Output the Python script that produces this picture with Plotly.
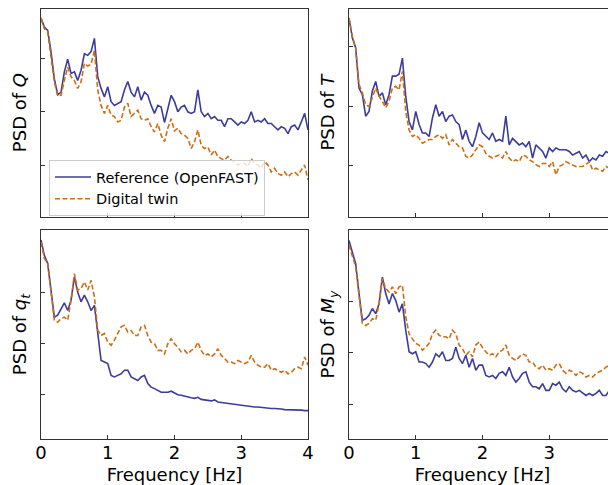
import plotly.graph_objects as go
from plotly.subplots import make_subplots

# frequency grid [Hz]
freq = [round(0.05 * i, 2) for i in range(81)]

# PSD values, stored as log10(PSD)
q_ref_log = [0.76, 0.59, 0.53, 0.13, -0.38, -0.68, -0.63, -0.25, -0.01, -0.28,
             -0.25, -0.41, -0.22, 0.09, 0.06, 0.13, 0.38, -0.34, -0.56, -0.72,
             -0.53, -0.81, -0.88, -0.84, -0.81, -0.59, -0.43, -0.63, -0.72, -0.53,
             -0.78, -0.63, -0.69, -0.88, -1.03, -0.88, -0.91, -1.20, -0.97, -0.69,
             -0.81,
             -1.00, -0.91, -0.88, -1.00, -1.03, -1.00, -0.59, -1.00, -1.09, -1.03,
             -1.13, -1.09, -1.16, -1.16, -1.28, -1.13, -1.13, -1.19, -1.25, -1.19,
             -1.22, -1.16, -1.00, -1.19, -1.16, -1.19, -1.13, -1.22, -1.22, -1.28,
             -1.34, -1.28, -1.31, -1.41, -1.28, -1.25, -1.34, -1.19, -1.03, -1.34]
q_twin_log = [0.76, 0.56, 0.50, 0.06, -0.44, -0.70, -0.69, -0.41, -0.16, -0.34,
              -0.41, -0.56, -0.44, -0.09, -0.14, -0.11, 0.16, -0.59, -0.88, -1.03,
              -0.88, -1.06, -1.09, -1.19, -1.16, -0.91, -0.84, -1.09, -1.03, -0.97,
              -1.13, -1.16, -1.13, -1.28, -1.38, -1.22, -1.44, -1.56, -1.31, -1.13,
              -1.36,
              -1.31, -1.41, -1.44, -1.50, -1.69, -1.56, -1.34, -1.63, -1.69, -1.66,
              -1.81, -1.72, -1.84, -1.88, -1.91, -1.84, -1.91, -1.94, -2.00, -1.97,
              -1.97, -2.03, -1.88, -1.97, -2.00, -2.06, -1.94, -2.00, -2.13, -2.06,
              -2.16, -2.19, -2.13, -2.22, -2.16, -2.13, -2.19, -2.09, -2.00, -2.28]

t_ref_log = [0.47, 0.14, -0.03, -0.70, -0.81, -1.17, -1.09, -0.75, -0.59, -0.84,
             -0.78, -0.98, -0.81, -0.50, -0.50, -0.47, -0.20, -0.84, -1.26, -1.40,
             -1.09, -1.31, -1.45, -1.45, -1.51, -1.20, -0.98, -1.17, -1.09, -1.26,
             -1.17, -1.15, -1.26, -1.31, -1.56, -1.40, -1.59, -1.68, -1.51, -1.28,
             -1.45,
             -1.51, -1.56, -1.45, -1.59, -1.56, -1.59, -1.17, -1.65, -1.54, -1.59,
             -1.65, -1.62, -1.68, -1.59, -1.87, -1.65, -1.70, -1.76, -1.87, -1.70,
             -1.76, -1.70, -1.73, -1.73, -1.73, -1.76, -1.82, -1.79, -1.76, -1.87,
             -1.82, -1.93, -1.87, -1.90, -1.82, -1.84, -1.76, -1.79, -1.68, -1.87]
t_twin_log = [0.47, 0.17, -0.03, -0.64, -0.78, -0.98, -1.01, -0.84, -0.70, -0.84,
              -0.92, -1.03, -0.92, -0.70, -0.67, -0.73, -0.42, -1.09, -1.40, -1.51,
              -1.48, -1.54, -1.62, -1.59, -1.56, -1.56, -1.51, -1.48, -1.54, -1.48,
              -1.65, -1.56, -1.62, -1.68, -1.70, -1.84, -1.87, -1.82, -1.73, -1.65,
              -1.68,
              -1.79, -1.84, -1.87, -1.84, -1.82, -1.87, -1.76, -1.87, -1.93, -1.90,
              -1.93, -1.82, -1.84, -1.90, -1.93, -1.98, -2.01, -1.96, -1.96, -2.01,
              -1.93, -2.15, -2.01, -1.98, -1.93, -1.96, -1.98, -2.01, -2.01, -2.01,
              -1.98, -1.93, -2.07, -2.04, -2.07, -2.09, -2.01, -2.04, -1.98, -2.07]

qt_ref_log = [1.03, 0.73, 0.57, 0.05, -0.48, -0.44, -0.31, -0.20, -0.35, -0.15,
              0.31, 0.01, -0.18, -0.05, -0.18, -0.35, -0.25, -0.80, -1.33, -1.36,
              -1.39, -1.62, -1.65, -1.62, -1.59, -1.52, -1.52, -1.65, -1.69, -1.72,
              -1.65, -1.62, -1.78, -1.85, -1.88, -1.92, -1.95, -1.95, -1.95, -1.93,
              -1.97,
              -2.00, -2.01, -2.03, -2.05, -2.06, -2.07, -2.05, -2.09, -2.10, -2.10,
              -2.12, -2.10, -2.14, -2.15, -2.16, -2.17, -2.18, -2.18, -2.20, -2.21,
              -2.22, -2.22, -2.23, -2.24, -2.24, -2.25, -2.25, -2.26, -2.27, -2.27,
              -2.27, -2.28, -2.29, -2.29, -2.29, -2.29, -2.30, -2.30, -2.31, -2.31]
qt_twin_log = [0.99, 0.67, 0.57, -0.02, -0.54, -0.58, -0.51, -0.48, -0.54, -0.15,
               0.37, 0.05, 0.08, 0.21, 0.05, 0.24, -0.08, -0.74, -0.84, -0.80,
               -0.97, -1.03, -0.93, -0.80, -0.67, -0.64, -0.77, -0.74, -0.84, -0.84,
               -0.67, -0.64, -0.84, -0.97, -1.00, -1.13, -1.13, -1.20, -1.00, -0.90,
               -1.00,
               -1.07, -1.16, -1.13, -1.20, -1.13, -1.10, -0.97, -1.13, -1.23, -1.20,
               -1.26, -1.20, -1.10, -1.23, -1.29, -1.36, -1.36, -1.39, -1.33, -1.36,
               -1.39, -1.36, -1.23, -1.36, -1.42, -1.46, -1.46, -1.39, -1.52, -1.49,
               -1.52, -1.56, -1.52, -1.59, -1.56, -1.49, -1.46, -1.49, -1.26, -1.42]

my_ref_log = [1.18, 0.93, 0.73, 0.15, -0.37, -0.34, -0.27, -0.14, -0.24, -0.05,
              0.47, 0.15, -0.05, 0.15, 0.02, -0.21, -0.05, -0.56, -0.98, -1.02,
              -0.98, -1.18, -1.18, -1.21, -1.28, -1.18, -1.02, -1.08, -0.98, -1.15,
              -1.15, -1.11, -0.89, -1.11, -1.21, -1.05, -1.28, -1.11, -1.34, -1.24,
              -1.24,
              -1.44, -1.47, -1.44, -1.50, -1.40, -1.37, -1.44, -1.28, -1.47, -1.57,
              -1.50, -1.40, -1.37, -1.57, -1.66, -1.66, -1.70, -1.60, -1.73, -1.73,
              -1.60, -1.63, -1.57, -1.70, -1.76, -1.66, -1.73, -1.76, -1.73, -1.79,
              -1.83, -1.79, -1.83, -1.79, -1.73, -1.83, -1.83, -1.73, -1.60, -1.66]
my_twin_log = [1.09, 0.86, 0.67, 0.12, -0.43, -0.47, -0.43, -0.34, -0.37, -0.05,
               0.44, 0.25, 0.18, 0.28, 0.15, 0.28, 0.31, -0.30, -0.63, -0.73,
               -0.82, -0.85, -0.95, -0.89, -0.82, -0.63, -0.56, -0.66, -0.69, -0.69,
               -0.73, -0.56, -0.63, -0.85, -0.92, -1.05, -0.98, -1.08, -0.85, -0.79,
               -0.90,
               -0.98, -1.05, -1.02, -1.08, -0.98, -0.95, -0.85, -1.05, -1.11, -1.15,
               -1.08, -1.02, -1.05, -1.18, -1.18, -1.28, -1.31, -1.24, -1.34, -1.31,
               -1.34, -1.24, -1.21, -1.34, -1.40, -1.34, -1.37, -1.44, -1.37, -1.40,
               -1.47, -1.44, -1.47, -1.40, -1.37, -1.34, -1.28, -1.24, -1.15, -1.34]

ylabels = ['PSD of <i>Q</i>', 'PSD of <i>T</i>',
           'PSD of <i>q</i><sub><i>t</i></sub>', 'PSD of <i>M</i><sub><i>y</i></sub>']
yranges = [[-2.97, 0.94], [-2.85, 0.63], [-2.86, 1.22], [-2.67, 1.38]]
ref_name = 'Reference (OpenFAST)'
twin_name = 'Digital twin'

BLUE = '#3c3c9a'
ORANGE = '#cc6f14'
FONT = 'DejaVu Sans'

panels = [(q_ref_log, q_twin_log), (t_ref_log, t_twin_log),
          (qt_ref_log, qt_twin_log), (my_ref_log, my_twin_log)]

fig = make_subplots(rows=2, cols=2)

for i, (ref, twin) in enumerate(panels):
    r, c = i // 2 + 1, i % 2 + 1
    fig.add_trace(go.Scatter(x=freq, y=[10 ** v for v in ref], mode='lines',
                             name=ref_name, showlegend=(i == 0),
                             line=dict(color=BLUE, width=1.6)), row=r, col=c)
    fig.add_trace(go.Scatter(x=freq, y=[10 ** v for v in twin], mode='lines',
                             name=twin_name, showlegend=(i == 0),
                             line=dict(color=ORANGE, width=1.6, dash='5px,2.5px')),
                  row=r, col=c)

# page body has an 8px margin, so the figure is 608x477 and sits at (8, 8)
W, H = 608, 477
xdom = [[33 / W, 300 / W], [341 / W, 1.0]]
ydom = [[(H - 208.7) / H, (H - 0.5) / H], [(H - 430.7) / H, (H - 222.3) / H]]

axis_common = dict(showline=True, linecolor='#333333', linewidth=1, mirror=True,
                   ticks='inside', ticklen=4, tickwidth=1, tickcolor='#333333',
                   showgrid=False, zeroline=False, automargin=False,
                   tickfont=dict(family=FONT, size=18, color='black'))

for i in range(4):
    r, c = i // 2, i % 2
    sfx = '' if i == 0 else str(i + 1)
    fig.layout['xaxis' + sfx].update(
        domain=xdom[c], range=[0, 4], tickvals=[0, 1, 2, 3, 4],
        showticklabels=(r == 1), ticklabelstandoff=-2, ticklabeloverflow='allow',
        title=dict(text='Frequency [Hz]' if r == 1 else '',
                   font=dict(family=FONT, size=18, color='black'), standoff=6),
        **axis_common)
    fig.layout['yaxis' + sfx].update(
        domain=ydom[r], type='log', range=yranges[i], tickvals=[1, 0.1, 0.01],
        showticklabels=False,
        title=dict(text=ylabels[i], font=dict(family=FONT, size=18, color='black'),
                   standoff=8),
        **axis_common)

fig.update_layout(
    width=W, height=H,
    margin=dict(l=0, r=0, t=0, b=0),
    paper_bgcolor='white', plot_bgcolor='white',
    font=dict(family=FONT, size=14.5, color='black'),
    legend=dict(x=41 / W, y=(H - 152) / H, xanchor='left', yanchor='top',
                itemwidth=36,
                bgcolor='rgba(255,255,255,0.8)', bordercolor='#cccccc', borderwidth=1,
                font=dict(family=FONT, size=14.5, color='black')),
)

fig.write_html("out.html")
